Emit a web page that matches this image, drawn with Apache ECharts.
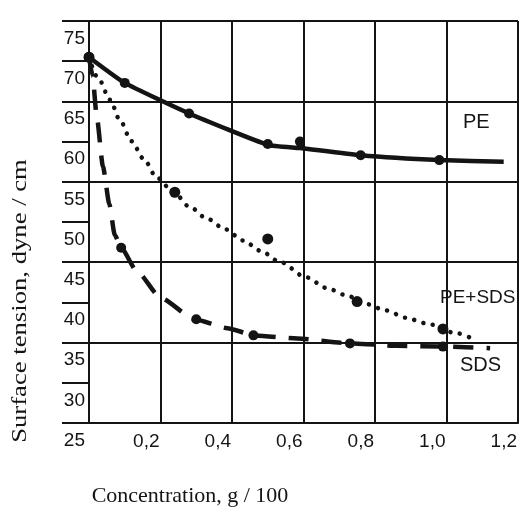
<!DOCTYPE html>
<html><head><meta charset="utf-8">
<script src="https://cdn.jsdelivr.net/npm/echarts@6/dist/echarts.min.js"></script>
<style>html,body{margin:0;padding:0;background:#fff}#c{width:525px;height:524px}</style>
</head><body><div id="c"></div>
<script>
// Axis tick labels
const xTickValues = [0, 0.2, 0.4, 0.6, 0.8, 1.0, 1.2];
const xTickLabels = ['', '0,2', '0,4', '0,6', '0,8', '1,0', '1,2'];
const yTickValues = [25, 30, 35, 40, 45, 50, 55, 60, 65, 70, 75];
const yTickLabels = ['25', '30', '35', '40', '45', '50', '55', '60', '65', '70', '75'];

// PE (solid)
const peMarkX = [0, 0.10, 0.28, 0.50, 0.59, 0.76, 0.98];
const peMarkY = [70.5, 67.3, 63.5, 59.7, 60.0, 58.3, 57.7];
const peLineX = [0, 0.10, 0.28, 0.50, 0.59, 0.76, 0.98, 1.16];
const peLineY = [70.5, 67.3, 63.5, 59.6, 59.2, 58.3, 57.7, 57.5];

// PE+SDS (dotted)
const pesdsMarkX = [0, 0.24, 0.50, 0.75, 0.99];
const pesdsMarkY = [70.5, 53.7, 47.9, 40.1, 36.7];
const pesdsLineX = [0, 0.028, 0.059, 0.086, 0.119, 0.152, 0.19, 0.237, 0.281, 0.331, 0.381, 0.431, 0.481, 0.531, 0.609, 0.664, 0.719, 0.775, 0.831, 0.886, 0.942, 1.025, 1.081];
const pesdsLineY = [70.5, 67.7, 65.2, 62.7, 60.05, 57.9, 55.5, 53.7, 51.9, 50.4, 49.1, 47.7, 46.4, 45.1, 43.1, 41.8, 40.9, 39.8, 39.0, 38.1, 37.4, 36.2, 35.3];

// SDS (dashed)
const sdsMarkX = [0, 0.09, 0.30, 0.46, 0.73, 0.99];
const sdsMarkY = [70.5, 46.8, 37.9, 35.9, 34.9, 34.5];
const sdsLineX = [0, 0.01, 0.021, 0.039, 0.057, 0.072, 0.09, 0.132, 0.201, 0.295, 0.387, 0.463, 0.583, 0.731, 0.862, 0.993, 1.122];
const sdsLineY = [70.5, 68.2, 63.4, 56.9, 52.2, 48.4, 46.8, 44.0, 40.55, 37.9, 36.8, 35.9, 35.5, 34.9, 34.6, 34.5, 34.3];

const zip = (xs, ys) => xs.map((x, i) => [x, ys[i]]);
const INK = '#141414';
const sans = '"Liberation Sans", Arial, sans-serif';
const serif = '"Liberation Serif", "Times New Roman", serif';

const chart = echarts.init(document.getElementById('c'), null, {renderer: 'canvas'});
chart.setOption({
  animation: false,
  backgroundColor: '#ffffff',
  grid: {left: 89, right: 7, top: 21, bottom: 101, containLabel: false},
  xAxis: {
    type: 'value', min: 0, max: 1.2, interval: 0.2,
    axisLine: {show: true, lineStyle: {color: INK, width: 2}},
    axisTick: {show: false},
    splitLine: {show: true, lineStyle: {color: INK, width: 2}},
    axisLabel: {
      color: INK, fontFamily: sans, fontSize: 19, margin: 9,
      align: 'right', padding: [0, 1, 0, 0],
      formatter: v => { const i = xTickValues.findIndex(t => Math.abs(t - v) < 1e-6); return i >= 0 ? xTickLabels[i] : ''; }
    }
  },
  yAxis: [{
    type: 'value', min: 25, max: 75, interval: 5,
    axisLine: {show: true, lineStyle: {color: INK, width: 2}},
    axisTick: {show: true, length: 27, lineStyle: {color: INK, width: 2}},
    splitLine: {show: false},
    axisLabel: {
      color: INK, fontFamily: sans, fontSize: 19, margin: 4,
      verticalAlign: 'top', padding: [8, 0, 0, 0],
      formatter: v => { const i = yTickValues.findIndex(t => Math.abs(t - v) < 1e-6); return i >= 0 ? yTickLabels[i] : ''; }
    }
  }, {
    type: 'value', min: 25, max: 75, interval: 10, position: 'left',
    axisLine: {show: false}, axisTick: {show: false}, axisLabel: {show: false},
    splitLine: {show: true, lineStyle: {color: INK, width: 2}}
  }],
  series: [
    {name: 'PE', type: 'line', data: zip(peLineX, peLineY), smooth: 0.15,
      showSymbol: false, symbol: 'none', lineStyle: {color: INK, width: 4.5}, z: 5},
    {name: 'PE pts', type: 'scatter', data: zip(peMarkX, peMarkY), symbolSize: 10,
      itemStyle: {color: INK, opacity: 1}, z: 6},
    {name: 'PE+SDS', type: 'line', data: zip(pesdsLineX, pesdsLineY), smooth: 0.3, smoothMonotone: 'x',
      showSymbol: false, symbol: 'none', lineStyle: {color: INK, width: 4.5, type: [0.1, 9.5], cap: 'round'}, z: 5},
    {name: 'PE+SDS pts', type: 'scatter', data: zip(pesdsMarkX, pesdsMarkY), symbolSize: 11,
      itemStyle: {color: INK, opacity: 1}, z: 6},
    {name: 'SDS', type: 'line', data: zip(sdsLineX, sdsLineY), smooth: 0.2, smoothMonotone: 'x',
      showSymbol: false, symbol: 'none', lineStyle: {color: INK, width: 4.5, type: [20, 13]}, z: 5},
    {name: 'SDS pts', type: 'scatter', data: zip(sdsMarkX, sdsMarkY), symbolSize: 10,
      itemStyle: {color: INK, opacity: 1}, z: 6}
  ],
  graphic: [
    {type: 'text', left: 463, top: 112, style: {text: 'PE', fill: INK, font: '20px ' + sans}},
    {type: 'text', left: 440, top: 288, style: {text: 'PE+SDS', fill: INK, font: '19px ' + sans}},
    {type: 'text', left: 460, top: 355, style: {text: 'SDS', fill: INK, font: '20px ' + sans}},
    {type: 'text', x: 20, y: 301, rotation: Math.PI / 2, scaleX: 1.27,
      style: {text: 'Surface tension, dyne / cm', fill: INK, font: '21px ' + serif, textAlign: 'center', textVerticalAlign: 'middle'}},
    {type: 'text', x: 190, y: 496,
      style: {text: 'Concentration, g / 100', fill: INK, font: '22px ' + serif, textAlign: 'center', textVerticalAlign: 'middle'}}
  ]
});
</script>
</body></html>
